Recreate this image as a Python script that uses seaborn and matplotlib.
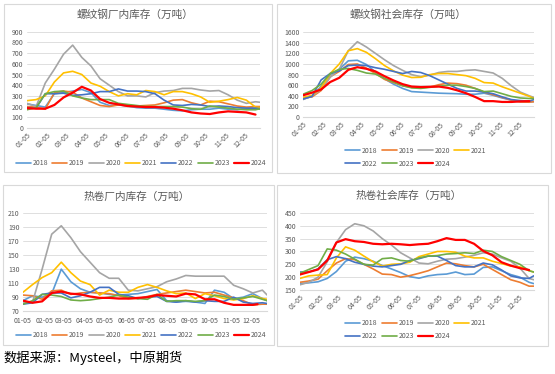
import numpy as np
import pandas as pd
import matplotlib
matplotlib.use("Agg")
import matplotlib.pyplot as plt
import seaborn as sns
from matplotlib.patches import Rectangle

YEARS = ["2018", "2019", "2020", "2021", "2022", "2023", "2024"]
COLORS = {
    "2018": "#5B9BD5", "2019": "#ED7D31", "2020": "#A5A5A5", "2021": "#FFC000",
    "2022": "#4472C4", "2023": "#70AD47", "2024": "#FF0000",
}
MONTH_LABELS = ["01-05", "02-05", "03-05", "04-05", "05-05", "06-05",
                "07-05", "08-05", "09-05", "10-05", "11-05", "12-05"]

# week index (0 = 01-05), sampled every two weeks
WEEKS = list(range(0, 51, 2)) + [51]
WEEKS_2024_RB = WEEKS[:26]
WEEKS_2024_HC_PLANT = WEEKS[:25] + [49]
WEEKS_2024_HC_SOCIAL = WEEKS[:26]

# 螺纹钢厂内库存
RB_PLANT_2018 = [225, 210, 195, 320, 330, 345, 360, 330, 240, 210, 215, 205, 190, 185,
                 185, 175, 165, 160, 170, 175, 175, 185, 175, 170, 185, 180, 175]
RB_PLANT_2019 = [200, 195, 175, 330, 345, 335, 280, 245, 210, 200, 215, 210, 205, 210,
                 215, 235, 260, 265, 235, 215, 250, 245, 225, 205, 195, 200, 200]
RB_PLANT_2020 = [230, 200, 420, 550, 690, 775, 660, 580, 460, 400, 340, 300, 300, 290,
                 330, 345, 350, 370, 370, 355, 345, 350, 310, 260, 230, 245, 240]
RB_PLANT_2021 = [255, 265, 300, 430, 515, 530, 500, 420, 390, 340, 300, 320, 310, 350,
                 340, 310, 340, 340, 320, 290, 240, 250, 265, 285, 260, 195, 190]
RB_PLANT_2022 = [190, 185, 320, 320, 325, 305, 310, 320, 340, 340, 365, 345, 345, 340,
                 320, 260, 215, 210, 220, 215, 200, 205, 200, 190, 185, 185, 180]
RB_PLANT_2023 = [170, 190, 320, 340, 345, 300, 280, 265, 265, 265, 230, 220, 210, 200,
                 200, 200, 200, 195, 180, 175, 205, 195, 185, 175, 170, 170, 180]
RB_PLANT_2024 = [185, 180, 180, 215, 285, 330, 385, 350, 270, 235, 220, 205, 200, 195,
                 195, 190, 180, 165, 145, 135, 130, 145, 155, 150, 145, 125]

# 螺纹钢社会库存
RB_SOCIAL_2018 = [340, 390, 580, 800, 900, 1060, 1070, 990, 850, 720, 620, 540, 480, 470,
                  460, 450, 445, 440, 430, 430, 450, 410, 360, 320, 295, 290, 290]
RB_SOCIAL_2019 = [360, 380, 500, 760, 860, 990, 1000, 920, 820, 710, 650, 590, 560, 550,
                  565, 610, 640, 630, 600, 540, 470, 420, 370, 320, 285, 280, 290]
RB_SOCIAL_2020 = [330, 400, 520, 750, 900, 1250, 1420, 1320, 1200, 1080, 970, 880, 800, 760,
                  790, 840, 860, 860, 880, 890, 860, 830, 730, 590, 470, 400, 370]
RB_SOCIAL_2021 = [370, 410, 550, 820, 1000, 1250, 1290, 1220, 1100, 970, 870, 790, 745, 750,
                  800, 820, 820, 800, 780, 730, 650, 640, 570, 510, 450, 390, 350]
RB_SOCIAL_2022 = [340, 390, 700, 820, 870, 970, 980, 970, 930, 900, 860, 820, 860, 840,
                  780, 700, 620, 540, 490, 490, 470, 440, 380, 330, 310, 300, 330]
RB_SOCIAL_2023 = [430, 500, 620, 820, 900, 915, 880, 830, 810, 730, 660, 590, 550, 540,
                  560, 580, 600, 600, 575, 540, 480, 490, 440, 390, 360, 350, 350]
RB_SOCIAL_2024 = [410, 460, 520, 660, 740, 890, 940, 910, 860, 770, 690, 620, 575, 565,
                  570, 575, 550, 505, 450, 380, 300, 300, 285, 285, 295, 300]

# 热卷厂内库存
HC_PLANT_2018 = [85, 92, 90, 95, 130, 112, 102, 97, 96, 94, 93, 94, 95, 98,
                 101, 85, 83, 84, 83, 81, 100, 97, 88, 90, 95, 88, 85]
HC_PLANT_2019 = [93, 92, 87, 99, 100, 94, 96, 97, 96, 95, 92, 88, 88, 91,
                 94, 96, 98, 100, 98, 96, 97, 93, 89, 85, 79, 80, 80]
HC_PLANT_2020 = [83, 83, 130, 180, 192, 175, 155, 140, 125, 117, 117, 100, 99, 102,
                 105, 112, 116, 121, 120, 120, 120, 120, 107, 102, 96, 100, 93]
HC_PLANT_2021 = [97, 108, 118, 125, 140, 125, 113, 108, 93, 100, 97, 97, 104, 108,
                 104, 99, 95, 96, 88, 95, 92, 88, 86, 88, 92, 88, 87]
HC_PLANT_2022 = [80, 82, 94, 96, 96, 89, 92, 97, 104, 104, 94, 92, 88, 90,
                 91, 84, 83, 85, 83, 85, 84, 84, 90, 83, 81, 82, 81]
HC_PLANT_2023 = [80, 85, 94, 93, 91, 86, 85, 86, 88, 90, 93, 90, 88, 87,
                 94, 84, 85, 85, 84, 85, 93, 91, 87, 89, 91, 87, 85]
HC_PLANT_2024 = [85, 82, 84, 96, 98, 95, 94, 91, 89, 89, 88, 88, 89, 90,
                 93, 92, 91, 95, 94, 87, 87, 82, 79, 79, 79, 80]

# 热卷社会库存
HC_SOCIAL_2018 = [175, 178, 182, 195, 222, 262, 278, 272, 262, 245, 232, 218, 202, 196,
                  205, 210, 212, 220, 210, 212, 238, 240, 225, 210, 200, 180, 175]
HC_SOCIAL_2019 = [180, 185, 192, 225, 255, 272, 268, 250, 232, 212, 210, 200, 206, 215,
                  225, 240, 255, 252, 245, 240, 250, 230, 210, 190, 180, 165, 165]
HC_SOCIAL_2020 = [170, 180, 200, 260, 335, 385, 408, 400, 380, 350, 325, 295, 275, 255,
                  252, 262, 270, 272, 278, 285, 295, 290, 275, 262, 235, 195, 190]
HC_SOCIAL_2021 = [195, 205, 208, 210, 275, 318, 305, 282, 260, 243, 250, 252, 258, 280,
                  290, 300, 300, 297, 282, 275, 275, 262, 253, 243, 240, 225, 220]
HC_SOCIAL_2022 = [220, 220, 232, 268, 280, 272, 258, 250, 243, 240, 245, 250, 265, 272,
                  282, 282, 265, 245, 240, 240, 255, 248, 228, 205, 197, 195, 205]
HC_SOCIAL_2023 = [215, 230, 245, 310, 305, 290, 270, 250, 247, 272, 275, 265, 262, 275,
                  282, 284, 290, 292, 295, 292, 305, 300, 280, 265, 250, 225, 220]
HC_SOCIAL_2024 = [210, 220, 230, 265, 335, 348, 340, 337, 330, 328, 330, 328, 325, 328,
                  330, 340, 352, 345, 345, 330, 302, 285, 258, 245, 235, 228]

SOURCE = "数据来源：Mysteel，中原期货"

sns.set_theme(style="white")
plt.rcParams["font.family"] = ["Noto Sans CJK SC", "DejaVu Sans"]

GRAY_TEXT = "#595959"
GRID = "#D9D9D9"

month_pos = [(pd.Timestamp(2023, m, 5).dayofyear - 5) / 7 for m in range(1, 13)]


def build_series(values_by_year, weeks_2024):
    frames = []
    for year, vals in zip(YEARS, values_by_year):
        weeks = weeks_2024 if year == "2024" else WEEKS
        frames.append(pd.DataFrame({"week": weeks[:len(vals)], "value": vals, "year": year}))
    return frames


def draw_panel(fig, rect, frames, yticks, rotate):
    ax = fig.add_axes(rect)
    for df in frames:
        year = df["year"].iloc[0]
        sns.lineplot(data=df, x="week", y="value", ax=ax, color=COLORS[year],
                     lw=1.6 if year == "2024" else 1.2, label=year, legend=False)
    ax.set_xlim(0, 51)
    ax.set_ylim(yticks[0], yticks[-1])
    ax.set_yticks(yticks)
    ax.set_xticks(month_pos)
    if rotate:
        ax.set_xticklabels(MONTH_LABELS, rotation=45, ha="right", rotation_mode="anchor")
    else:
        ax.set_xticklabels(MONTH_LABELS)
    ax.tick_params(axis="both", labelsize=5, colors=GRAY_TEXT, length=0, pad=2.5)
    if not rotate:
        ax.tick_params(axis="x", pad=4.5)
    ax.grid(axis="y", color=GRID, lw=0.6)
    ax.set_axisbelow(True)
    for side in ["left", "right", "top"]:
        ax.spines[side].set_visible(False)
    ax.spines["bottom"].set_color(GRID)
    ax.spines["bottom"].set_linewidth(0.8)
    ax.set_xlabel("")
    ax.set_ylabel("")
    return ax


def add_legend(fig, ax, anchor, two_rows):
    handles, labels = ax.get_legend_handles_labels()
    if two_rows:
        order = [0, 4, 1, 5, 2, 6, 3]
        handles = [handles[i] for i in order]
        labels = [labels[i] for i in order]
        ncol = 4
    else:
        ncol = 7
    fig.legend(handles, labels, loc="center", bbox_to_anchor=anchor, ncol=ncol,
               frameon=False, fontsize=5.0, handlelength=2.15, columnspacing=0.6,
               handletextpad=0.25, labelspacing=0.7, labelcolor=GRAY_TEXT,
               borderpad=0.2)


fig = plt.figure(figsize=(5.55, 3.74), dpi=100)

boxes = [(0.0072, 0.540, 0.483, 0.449), (0.499, 0.537, 0.4937, 0.452),
         (0.0054, 0.0775, 0.488, 0.428), (0.499, 0.075, 0.4883, 0.4305)]
for b in boxes:
    fig.add_artist(Rectangle(b[:2], b[2], b[3], transform=fig.transFigure,
                             fill=False, ec=GRID, lw=0.8))

ax1 = draw_panel(fig, [0.0486, 0.658, 0.42, 0.257],
                 build_series([RB_PLANT_2018, RB_PLANT_2019, RB_PLANT_2020, RB_PLANT_2021,
                               RB_PLANT_2022, RB_PLANT_2023, RB_PLANT_2024], WEEKS_2024_RB),
                 list(range(0, 901, 100)), True)
ax2 = draw_panel(fig, [0.546, 0.687, 0.416, 0.227],
                 build_series([RB_SOCIAL_2018, RB_SOCIAL_2019, RB_SOCIAL_2020, RB_SOCIAL_2021,
                               RB_SOCIAL_2022, RB_SOCIAL_2023, RB_SOCIAL_2024], WEEKS_2024_RB),
                 list(range(0, 1601, 200)), True)
ax3 = draw_panel(fig, [0.0414, 0.168, 0.44, 0.262],
                 build_series([HC_PLANT_2018, HC_PLANT_2019, HC_PLANT_2020, HC_PLANT_2021,
                               HC_PLANT_2022, HC_PLANT_2023, HC_PLANT_2024], WEEKS_2024_HC_PLANT),
                 list(range(70, 211, 20)), False)
ax4 = draw_panel(fig, [0.540, 0.2246, 0.4216, 0.206],
                 build_series([HC_SOCIAL_2018, HC_SOCIAL_2019, HC_SOCIAL_2020, HC_SOCIAL_2021,
                               HC_SOCIAL_2022, HC_SOCIAL_2023, HC_SOCIAL_2024], WEEKS_2024_HC_SOCIAL),
                 list(range(150, 451, 50)), True)

add_legend(fig, ax1, (0.254, 0.564), False)
add_legend(fig, ax2, (0.749, 0.58), True)
add_legend(fig, ax3, (0.254, 0.104), False)
add_legend(fig, ax4, (0.749, 0.118), True)

title_kw = dict(ha="center", va="center", fontsize=7.7, color=GRAY_TEXT)
fig.text(0.243, 0.96, "螺纹钢厂内库存（万吨）", **title_kw)
fig.text(0.735, 0.96, "螺纹钢社会库存（万吨）", **title_kw)
fig.text(0.246, 0.473, "热卷厂内库存（万吨）", **title_kw)
fig.text(0.737, 0.476, "热卷社会库存（万吨）", **title_kw)

fig.text(0.006, 0.043, SOURCE, ha="left", va="center", fontsize=9.5, color="black")

fig.savefig("out.png", dpi=100)
